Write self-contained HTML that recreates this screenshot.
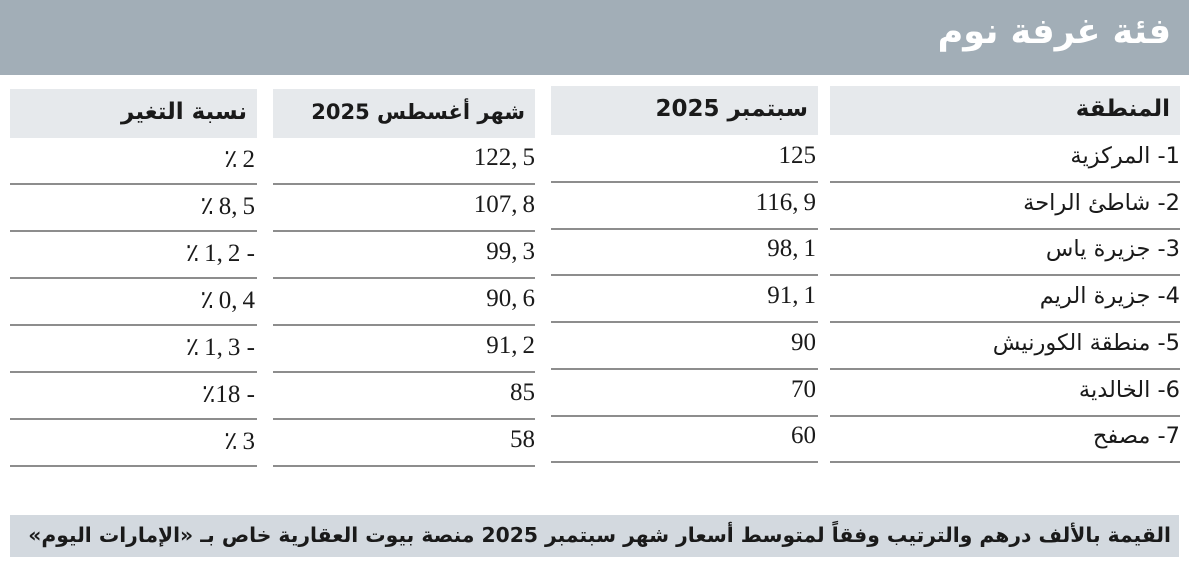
<!DOCTYPE html>
<html><head><meta charset="utf-8"><style>
body{margin:0;width:1189px;height:568px;background:#fff;position:relative;overflow:hidden;font-family:"DejaVu Sans",sans-serif;}
.a{position:absolute;}
.band{left:0;top:0;width:1189px;height:75px;background:#a2aeb7;}
.title{right:18px;top:12px;color:#fff;font-weight:bold;font-size:35px;direction:rtl;}
.hd{background:#e6e9ec;height:49px;}
.ht{position:absolute;right:10px;top:10px;font-size:23px;font-weight:bold;color:#1a1a1a;direction:rtl;white-space:nowrap;}
.ln{height:2px;background:#8d8d8d;}
.v{font-family:"Liberation Serif",serif;font-size:25px;color:#1a1a1a;text-align:right;direction:ltr;white-space:nowrap;}
.r{font-size:22.5px;color:#1a1a1a;direction:rtl;white-space:nowrap;}
.foot{left:10px;top:515px;width:1169px;height:42px;background:#d3d9df;}
.ft{position:absolute;right:8px;top:8px;font-size:20.3px;font-weight:bold;color:#1a1a1a;direction:rtl;white-space:nowrap;}
</style></head><body>
<div class="a band"></div>
<div class="a title">فئة غرفة نوم</div>

<div class="a hd" style="left:10px;top:89px;width:247px"><div class="ht">نسبة التغير</div></div>
<div class="a hd" style="left:273px;top:89px;width:262px"><div class="ht" style="font-size:21px;top:11px">شهر أغسطس 2025</div></div>
<div class="a hd" style="left:551px;top:86px;width:267px"><div class="ht">سبتمبر 2025</div></div>
<div class="a hd" style="left:830px;top:86px;width:350px"><div class="ht">المنطقة</div></div>

<div id="rows"></div>
<script>
var T="\u2009";
var ch=["\u066A"+T+"2","\u066A"+T+"8,"+T+"5","\u066A"+T+"1,"+T+"2 -","\u066A"+T+"0,"+T+"4","\u066A"+T+"1,"+T+"3 -","\u066A18 -","\u066A"+T+"3"];
var au=["122,"+T+"5","107,"+T+"8","99,"+T+"3","90,"+T+"6","91,"+T+"2","85","58"];
var se=["125","116,"+T+"9","98,"+T+"1","91,"+T+"1","90","70","60"];
var rg=["1- المركزية","2- شاطئ الراحة","3- جزيرة ياس","4- جزيرة الريم","5- منطقة الكورنيش","6- الخالدية","7- مصفح"];
var h="";
for(var i=0;i<7;i++){
 var ly=183+i*47, ry=181+i*46.7;
 var ty=ly-39, rty=ry-39;
 h+='<div class="a v" style="right:'+(1189-255)+'px;top:'+ty+'px">'+ch[i]+'</div>';
 h+='<div class="a v" style="right:'+(1189-535)+'px;top:'+ty+'px">'+au[i]+'</div>';
 h+='<div class="a v" style="right:'+(1189-816)+'px;top:'+rty+'px">'+se[i]+'</div>';
 h+='<div class="a r" style="right:9px;top:'+(rty+1)+'px">'+rg[i]+'</div>';
 h+='<div class="a ln" style="left:10px;top:'+ly+'px;width:247px"></div>';
 h+='<div class="a ln" style="left:273px;top:'+ly+'px;width:262px"></div>';
 h+='<div class="a ln" style="left:551px;top:'+ry+'px;width:267px"></div>';
 h+='<div class="a ln" style="left:830px;top:'+ry+'px;width:350px"></div>';
}
document.getElementById("rows").innerHTML=h;
</script>

<div class="a foot"><div class="ft">القيمة بالألف درهم والترتيب وفقاً لمتوسط أسعار شهر سبتمبر 2025 منصة بيوت العقارية خاص بـ «الإمارات اليوم»</div></div>
</body></html>
